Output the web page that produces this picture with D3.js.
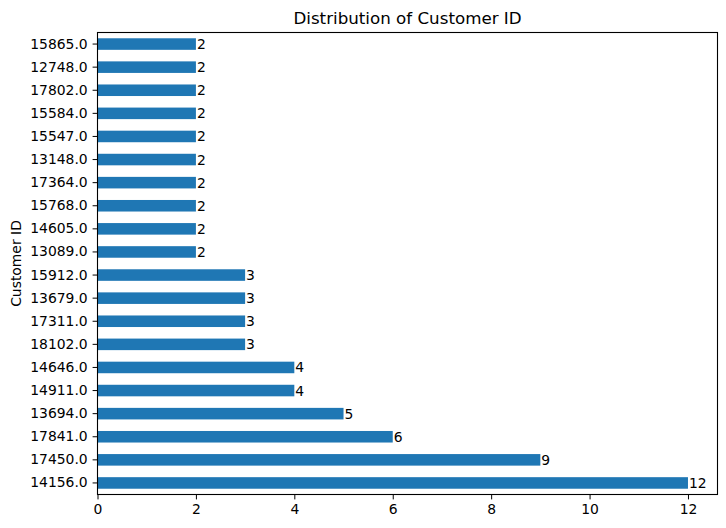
<!DOCTYPE html>
<html>
<head>
<meta charset="utf-8">
<style>
  body { margin: 0; background: #fff; }
  text { font-family: "DejaVu Sans", sans-serif; }
</style>
</head>
<body>
<svg width="726" height="528" viewBox="0 0 726 528"></svg>
<script src="https://d3js.org/d3.v7.min.js"></script>
<script>
// categories top to bottom as drawn
const customerIds = [
  '15865.0', '12748.0', '17802.0', '15584.0', '15547.0', '13148.0', '17364.0',
  '15768.0', '14605.0', '13089.0', '15912.0', '13679.0', '17311.0', '18102.0',
  '14646.0', '14911.0', '13694.0', '17841.0', '17450.0', '14156.0'
];
const counts = [2, 2, 2, 2, 2, 2, 2, 2, 2, 2, 3, 3, 3, 3, 4, 4, 5, 6, 9, 12];
const xTicks = [0, 2, 4, 6, 8, 10, 12];

const svg = d3.select('svg');
const plotL = 97.5, plotR = 717.5, plotT = 32.5, plotB = 494.5;
const barColor = '#1f77b4';

const rows = customerIds.map((id, i) => ({ id, value: counts[i] }));

const x = d3.scaleLinear()
  .domain([0, d3.max(counts) * 1.05])
  .range([plotL, plotR]);

const y = d3.scaleBand()
  .domain(customerIds)
  .range([plotT, plotB])
  .paddingInner(0.5)
  .paddingOuter(0.25);

// bars
svg.selectAll('.bar').data(rows).join('rect')
  .attr('class', 'bar')
  .attr('x', x(0))
  .attr('y', d => y(d.id))
  .attr('width', d => x(d.value) - x(0))
  .attr('height', y.bandwidth())
  .attr('fill', barColor);

// value labels
svg.selectAll('.lbl').data(rows).join('text')
  .attr('class', 'lbl')
  .attr('x', d => x(d.value) + 1)
  .attr('y', d => y(d.id) + y.bandwidth() / 2)
  .attr('dy', '0.36em')
  .attr('font-size', '13.9px')
  .attr('fill', '#000')
  .text(d => d.value);

// axes
const xAxis = svg.append('g')
  .attr('transform', `translate(0,${plotB})`)
  .call(d3.axisBottom(x).tickValues(xTicks).tickSize(4.9).tickPadding(4.9));
const yAxis = svg.append('g')
  .attr('transform', `translate(${plotL},0)`)
  .call(d3.axisLeft(y).tickSize(4.9).tickPadding(4.9));

[xAxis, yAxis].forEach(g => {
  g.select('.domain').remove();
  g.selectAll('.tick line').attr('stroke', '#000').attr('stroke-width', 1);
  g.selectAll('.tick text')
    .attr('font-family', '"DejaVu Sans", sans-serif')
    .attr('font-size', '13.9px')
    .attr('fill', '#000');
});

// frame
svg.append('rect')
  .attr('x', plotL).attr('y', plotT)
  .attr('width', plotR - plotL).attr('height', plotB - plotT)
  .attr('fill', 'none')
  .attr('stroke', '#000')
  .attr('stroke-width', 1.1);

// title
svg.append('text')
  .attr('x', (plotL + plotR) / 2)
  .attr('y', plotT - 9)
  .attr('text-anchor', 'middle')
  .attr('font-size', '16.7px')
  .attr('fill', '#000')
  .text('Distribution of Customer ID');

// y label
svg.append('text')
  .attr('transform', `translate(21,${(plotT + plotB) / 2}) rotate(-90)`)
  .attr('text-anchor', 'middle')
  .attr('font-size', '13.9px')
  .attr('fill', '#000')
  .text('Customer ID');
</script>
</body>
</html>
